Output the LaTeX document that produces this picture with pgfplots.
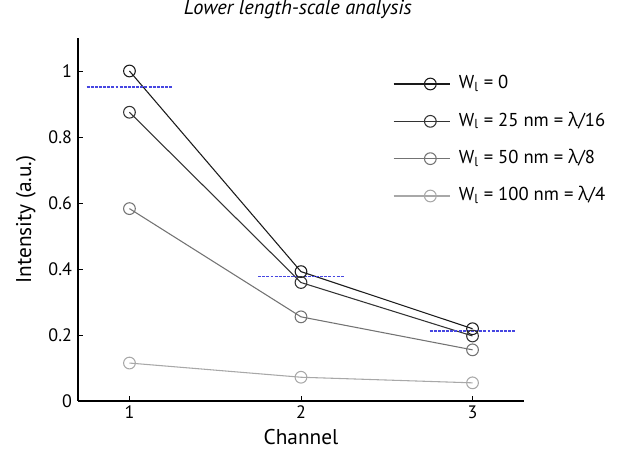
\documentclass[border=0pt]{standalone}
\usepackage{fontspec}
\setmainfont{PT Sans}
\newfontfamily\grk{Open Sans}
\usepackage{pgfplots}
\pgfplotsset{compat=1.18}

\definecolor{sOne}{HTML}{1A1A1A}
\definecolor{sTwo}{HTML}{333333}
\definecolor{sThree}{HTML}{737373}
\definecolor{sFour}{HTML}{A8A8A8}
\definecolor{refblue}{RGB}{70,70,225}

\newcommand{\lam}{{\grk λ}}

\pgfplotsset{reflevel/.style={draw=refblue, color=refblue, mark=none, line width=1pt,
	dash pattern=on 2.2pt off 0.9pt, forget plot}}

\begin{document}
\begin{tikzpicture}
% page = 636x456 px at 0.75pt/px, axis corner at px (78,401)
\useasboundingbox (-58.5pt,-41.25pt) rectangle (418.5pt,300.75pt);
\begin{axis}[
	at={(0,0)}, anchor=south west,
	scale only axis,
	width=334.5pt, height=272.25pt,
	xmin=0.7, xmax=3.3,
	ymin=0, ymax=1.1,
	axis lines=left,
	axis line style={-, line width=0.8pt},
	xtick={1,2,3},
	ytick={0,0.2,0.4,0.6,0.8,1},
	yticklabels={0,0.2,0.4,0.6,0.8,1},
	tick align=inside,
	major tick length=4pt,
	tick style={black, line width=0.7pt},
	/pgf/number format/assume math mode=true,
	tick label style={font=\fontsize{13.5}{15}\selectfont},
	yticklabel style={xshift=-1pt},
	xlabel={Channel},
	ylabel={Intensity (a.u.)},
	label style={font=\fontsize{16}{19}\selectfont},
	xlabel style={at={(axis description cs:0.5,-0.099)}, anchor=center},
	ylabel style={at={(axis description cs:-0.117,0.5)}, anchor=center},
	title={\itshape Lower length-scale analysis},
	title style={at={(axis description cs:0.493,1.058)}, anchor=center, font=\fontsize{15.3}{18}\selectfont},
	clip=false,
	legend cell align=left,
	legend style={draw=none, fill=none, at={(axis description cs:0.706,0.719)}, anchor=west,
		font=\fontsize{14}{16}\selectfont, row sep=15pt, inner sep=0pt,
		nodes={inner sep=0pt, text height=10pt, text depth=3pt}},
	legend image code/.code={%
		\draw[#1, mark repeat=2, mark phase=2] plot coordinates {(0pt,0pt) (27.5pt,0pt) (42.5pt,0pt)};
		\path (48.5pt,0pt);},
	every axis plot/.append style={line width=0.8pt, mark=o, mark size=4.4pt, mark options={solid}},
]
\addplot[sOne] coordinates {(1,1.0) (2,0.392) (3,0.219)};
\addplot[sTwo] coordinates {(1,0.875) (2,0.359) (3,0.197)};
\addplot[sThree] coordinates {(1,0.583) (2,0.255) (3,0.155)};
\addplot[sFour] coordinates {(1,0.115) (2,0.072) (3,0.055)};
\legend{W\textsubscript{l} = 0,
	W\textsubscript{l} = 25 nm = \lam/16,
	W\textsubscript{l} = 50 nm = \lam/8,
	W\textsubscript{l} = 100 nm = \lam/4}
% reference levels
\addplot[reflevel] coordinates {(0.75,0.951) (1.25,0.951)};
\addplot[reflevel] coordinates {(1.75,0.377) (2.25,0.377)};
\addplot[reflevel] coordinates {(2.75,0.212) (3.25,0.212)};
\end{axis}
\end{tikzpicture}
\end{document}
